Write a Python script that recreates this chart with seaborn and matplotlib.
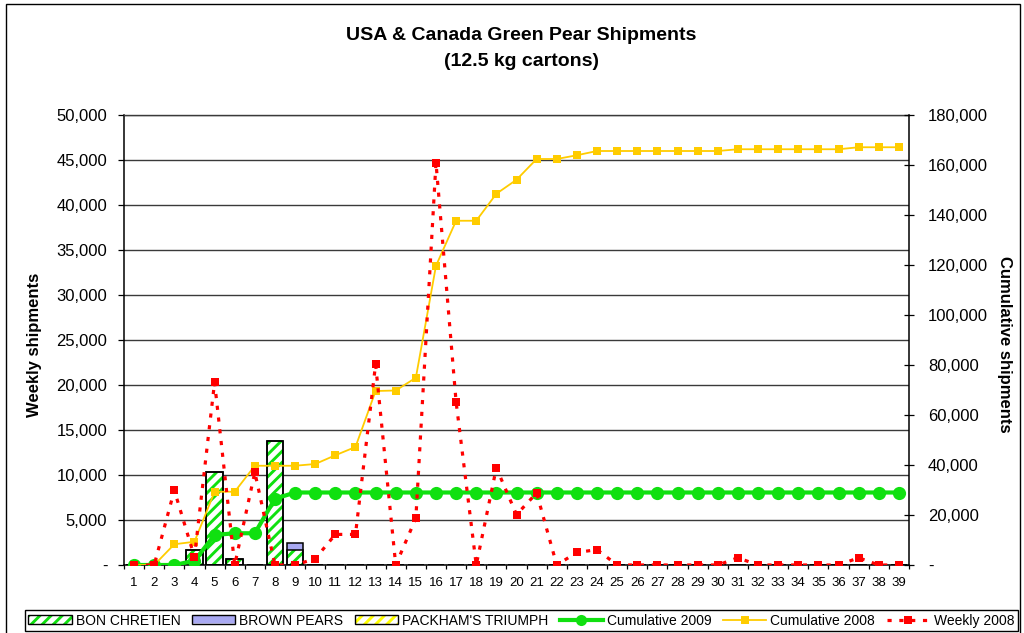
import matplotlib
matplotlib.use("Agg")
import matplotlib.pyplot as plt
import seaborn as sns
import numpy as np
from matplotlib.patches import Patch, Rectangle
from matplotlib.lines import Line2D
from matplotlib.legend_handler import HandlerTuple
from matplotlib.ticker import FuncFormatter, FixedLocator

# ---------------- data ----------------
weeks = [1, 2, 3, 4, 5, 6, 7, 8, 9, 10, 11, 12, 13, 14, 15, 16, 17, 18, 19, 20,
         21, 22, 23, 24, 25, 26, 27, 28, 29, 30, 31, 32, 33, 34, 35, 36, 37, 38, 39]

bon_chretien = [0, 0, 0, 1700, 10300, 700, 0, 13800, 1700, 0,
                0, 0, 0, 0, 0, 0, 0, 0, 0, 0,
                0, 0, 0, 0, 0, 0, 0, 0, 0, 0,
                0, 0, 0, 0, 0, 0, 0, 0, 0]
brown_pears = [0, 0, 0, 0, 0, 0, 0, 0, 800, 0,
               0, 0, 0, 0, 0, 0, 0, 0, 0, 0,
               0, 0, 0, 0, 0, 0, 0, 0, 0, 0,
               0, 0, 0, 0, 0, 0, 0, 0, 0]
packhams_triumph = [0, 0, 0, 0, 0, 0, 0, 0, 0, 0,
                    0, 0, 0, 0, 0, 0, 0, 0, 0, 0,
                    0, 0, 0, 0, 0, 0, 0, 0, 0, 0,
                    0, 0, 0, 0, 0, 0, 0, 0, 0]
cumulative_2009 = [0, 0, 0, 1700, 12000, 12700, 12700, 26500, 29000, 29000,
                   29000, 29000, 29000, 29000, 29000, 29000, 29000, 29000, 29000, 29000,
                   29000, 29000, 29000, 29000, 29000, 29000, 29000, 29000, 29000, 29000,
                   29000, 29000, 29000, 29000, 29000, 29000, 29000, 29000, 29000]
cumulative_2008 = [0, 0, 8300, 9300, 29300, 29300, 39700, 39700, 39700, 40400,
                   43900, 47200, 69600, 69800, 74900, 119700, 137700, 137700, 148500, 154100,
                   162400, 162400, 163900, 165600, 165600, 165600, 165600, 165600, 165600, 165600,
                   166300, 166300, 166300, 166300, 166300, 166300, 167100, 167100, 167100]
weekly_2008 = [0, 0, 8300, 900, 20300, 0, 10300, 0, 0, 700,
               3400, 3400, 22300, 0, 5200, 44700, 18100, 0, 10800, 5600,
               8000, 0, 1400, 1700, 0, 0, 0, 0, 0, 0,
               800, 0, 0, 0, 0, 0, 800, 0, 0]

series_names = ["BON CHRETIEN", "BROWN PEARS", "PACKHAM'S TRIUMPH",
                "Cumulative 2009", "Cumulative 2008", "Weekly 2008"]
title_line1 = "USA & Canada Green Pear Shipments"
title_line2 = "(12.5 kg cartons)"

# ---------------- style ----------------
plt.rcParams['font.family'] = ['Liberation Sans', 'DejaVu Sans']
plt.rcParams['hatch.linewidth'] = 2.1

GREEN = '#10E010'
YELLOW = '#FFCC00'
RED = '#FF0000'
LAV = '#A9A9F2'
PACK = '#FFFF00'
HATCH = '///'

W, H = 1024, 633
fig = plt.figure(figsize=(W / 100, H / 100), dpi=100)
L, R, T, B = 124, 909, 115, 565
ax = fig.add_axes([L / W, 1 - B / H, (R - L) / W, (B - T) / H])

wk = np.array(weeks)
bc = np.array(bon_chretien)
bp = np.array(brown_pears)
pt = np.array(packhams_triumph)
stack2 = bc + bp
stack3 = bc + bp + pt

bw = 0.82
# Packham's layer (top of stack)
sns.barplot(x=wk, y=stack3, native_scale=True, width=bw, errorbar=None,
            color='white', edgecolor=PACK, linewidth=0, hatch=HATCH, ax=ax, zorder=2)
# Brown pears layer
sns.barplot(x=wk, y=stack2, native_scale=True, width=bw, errorbar=None,
            color=LAV, edgecolor='white', linewidth=0, hatch='-', saturation=1,
            ax=ax, zorder=2.1)
sns.barplot(x=wk, y=stack2, native_scale=True, width=bw, errorbar=None,
            fill=False, color='black', linewidth=1.1, ax=ax, zorder=2.3)
# Bon Chretien layer
sns.barplot(x=wk, y=bc, native_scale=True, width=bw, errorbar=None,
            color='white', edgecolor=GREEN, linewidth=0, hatch=HATCH,
            ax=ax, zorder=2.2)
sns.barplot(x=wk, y=bc, native_scale=True, width=bw, errorbar=None,
            fill=False, color='black', linewidth=1.1, ax=ax, zorder=2.4)

# Cumulative lines (right axis)
ax2 = ax.twinx()
sns.lineplot(x=wk, y=cumulative_2009, ax=ax2, color=GREEN, linewidth=3.0,
             marker='o', markersize=9.5, markeredgecolor=GREEN, markeredgewidth=0,
             legend=False)
sns.lineplot(x=wk, y=cumulative_2008, ax=ax2, color=YELLOW, linewidth=1.3,
             marker='s', markersize=6, markeredgecolor=YELLOW, markeredgewidth=0,
             legend=False)

# Weekly 2008 (left scale, drawn on top)
ax3 = ax.twinx()
sns.lineplot(x=wk, y=weekly_2008, ax=ax3, color=RED, linewidth=2.3,
             marker='s', markersize=6.2, markeredgecolor=RED, markeredgewidth=0,
             legend=False, dashes=False)
for ln in ax3.get_lines():
    ln.set_linestyle((0, (1.3, 2.4)))
    ln.set_dash_capstyle('butt')

# ---------------- axes formatting ----------------
def fmt(v, pos=None):
    if abs(v) < 1e-9:
        return '-'
    return f"{v:,.0f}"

ax.set_ylim(0, 50000)
ax3.set_ylim(0, 50000)
ax2.set_ylim(0, 180000)
for a in (ax, ax2, ax3):
    a.set_xlim(0.5, 39.5)
    a.set_xlabel('')
    a.set_ylabel('')

ax.yaxis.set_major_locator(FixedLocator(np.arange(0, 50001, 5000)))
ax.yaxis.set_major_formatter(FuncFormatter(fmt))
ax2.yaxis.set_major_locator(FixedLocator(np.arange(0, 180001, 20000)))
ax2.yaxis.set_major_formatter(FuncFormatter(fmt))

ax.xaxis.set_major_locator(FixedLocator(weeks))
ax.set_xticklabels([str(w) for w in weeks])
ax.xaxis.set_minor_locator(FixedLocator(np.arange(0.5, 40, 1.0)))
ax.tick_params(axis='x', which='major', length=0, pad=9, labelsize=9.5)
ax.tick_params(axis='x', which='minor', length=3.2, width=0.9, direction='out', color='black')
ax.tick_params(axis='y', which='major', length=4.5, width=0.9, direction='out',
               pad=7.5, labelsize=12)
ax2.tick_params(axis='y', which='major', length=6.5, width=0.9, direction='inout',
                pad=10.5, labelsize=12)

ax.yaxis.grid(True, color='#3a3a3a', linewidth=1.0)
ax.set_axisbelow(True)

for s in ('left', 'bottom'):
    ax.spines[s].set_color('black')
    ax.spines[s].set_linewidth(1.1)
ax.spines['right'].set_visible(False)
ax.spines['top'].set_color('#3a3a3a')
ax.spines['top'].set_linewidth(1.0)
for s in ('left', 'top', 'bottom'):
    ax2.spines[s].set_visible(False)
ax2.spines['right'].set_color('black')
ax2.spines['right'].set_linewidth(1.1)
for s in ax3.spines.values():
    s.set_visible(False)
ax3.set_yticks([])
ax3.tick_params(axis='y', length=0, labelright=False, labelleft=False)

ax.set_ylabel('Weekly shipments', fontsize=12, fontweight='bold')
ax.yaxis.set_label_coords(-0.105, 0.49)
ax2.set_ylabel('Cumulative shipments', fontsize=12, fontweight='bold',
               rotation=270, va='center')
ax2.yaxis.set_label_coords(1.122, 0.49)

# ---------------- titles ----------------
fig.text(0.509, 1 - 36 / H, title_line1, ha='center', va='center',
         fontsize=14, fontweight='bold')
fig.text(0.509, 1 - 61 / H, title_line2, ha='center', va='center',
         fontsize=14, fontweight='bold')

# ---------------- legend ----------------
outline = dict(fill=False, edgecolor='black', linewidth=1.0)
h_bc = (Patch(facecolor='white', edgecolor=GREEN, hatch=HATCH, linewidth=0), Patch(**outline))
h_bp = (Patch(facecolor=LAV, edgecolor='white', hatch='-', linewidth=0), Patch(**outline))
h_pt = (Patch(facecolor='white', edgecolor=PACK, hatch=HATCH, linewidth=0), Patch(**outline))
h_c9 = Line2D([], [], color=GREEN, linewidth=3.0, marker='o', markersize=8,
              markeredgewidth=0)
h_c8 = Line2D([], [], color=YELLOW, linewidth=1.3, marker='s', markersize=6,
              markeredgewidth=0)
h_w8 = Line2D([], [], color=RED, linewidth=2.3, linestyle=(0, (1.3, 2.4)),
              dash_capstyle='butt', marker='s', markersize=6.2, markeredgewidth=0)

leg = fig.legend([h_bc, h_bp, h_pt, h_c9, h_c8, h_w8], series_names,
                 handler_map={tuple: HandlerTuple(ndivide=1)},
                 loc='lower left', ncol=6, mode='expand',
                 bbox_to_anchor=(25 / W, 2 / H, (1018 - 25) / W, 23 / H),
                 fontsize=10, frameon=True, fancybox=False, shadow=False,
                 borderaxespad=0, borderpad=0.25, handlelength=3.1, handleheight=0.6,
                 handletextpad=0.3, columnspacing=0.8)
leg.get_frame().set_edgecolor('black')
leg.get_frame().set_linewidth(1.0)
leg.get_frame().set_alpha(None)
leg.get_frame().set_facecolor('white')

# chart-area frame
fig.patches.append(Rectangle((6 / W, -0.05), (1020 - 6) / W, 1 - 4 / H + 0.05,
                             transform=fig.transFigure, fill=False,
                             edgecolor='black', linewidth=1.0, zorder=0))

fig.savefig('out.png', dpi=100)
